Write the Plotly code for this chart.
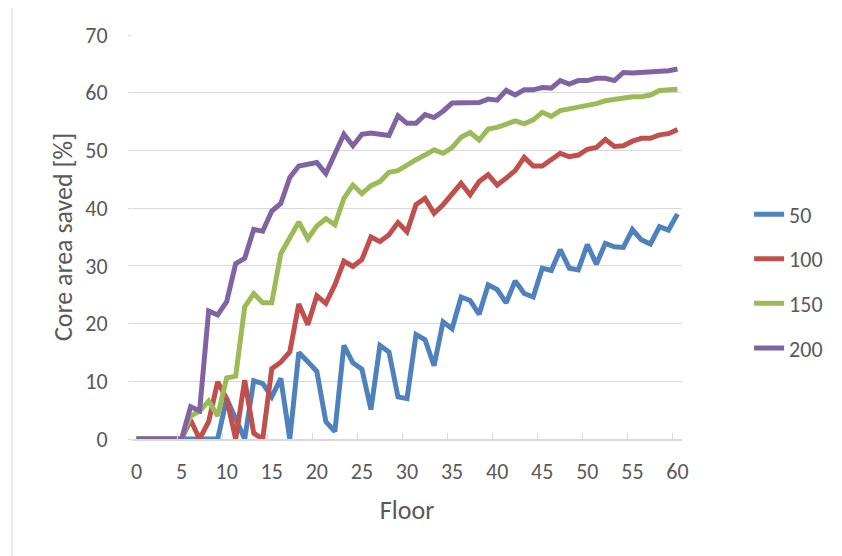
import plotly.graph_objects as go

floors = list(range(0, 61))

s50 = [0, 0, 0, 0, 0, 0, 0, 0, 0, 0,
       7.0, 3.3, 0, 10.1, 9.6, 7.3, 10.5, 0, 15.0, 13.4, 11.7,
       3.0, 1.3, 16.2, 13.2, 12.1, 5.1, 16.2, 15.1, 7.3, 7.0,
       18.1, 17.2, 12.7, 20.3, 19.1, 24.6, 24.0, 21.6, 26.7, 25.9,
       23.6, 27.4, 25.2, 24.6, 29.6, 29.2, 32.8, 29.6, 29.3, 33.7,
       30.3, 33.9, 33.3, 33.2, 36.3, 34.5, 33.8, 36.8, 36.2, 39.0]

s100 = [0, 0, 0, 0, 0, 0,
        3.3, 0, 3.0, 9.9, 7.0, 0, 10.2, 1.0, 0, 12.2, 13.3, 15.1, 23.4, 19.8, 24.8,
        23.5, 26.7, 30.8, 29.9, 31.1, 35.0, 34.2, 35.4, 37.5, 35.9,
        40.6, 41.7, 39.1, 40.6, 42.3, 44.3, 42.3, 44.6, 45.8, 44.0,
        45.2, 46.5, 48.8, 47.3, 47.3, 48.4, 49.5, 48.9, 49.2, 50.2,
        50.5, 51.9, 50.7, 50.8, 51.6, 52.1, 52.1, 52.7, 52.9, 53.6]

s150 = [0, 0, 0, 0, 0, 0,
        4.0, 4.8, 6.6, 4.0, 10.6, 10.9, 22.9, 25.2, 23.6, 23.6, 32.1, 34.8, 37.6, 34.7, 36.9,
        38.2, 37.1, 41.7, 44.0, 42.5, 43.9, 44.6, 46.2, 46.5, 47.5,
        48.4, 49.2, 50.1, 49.5, 50.5, 52.3, 53.1, 51.8, 53.7, 54.0,
        54.6, 55.1, 54.6, 55.3, 56.6, 55.9, 56.9, 57.2, 57.4, 57.8,
        58.1, 58.6, 58.9, 59.0, 59.3, 59.3, 59.6, 60.4, 60.5, 60.6]

s200 = [0, 0, 0, 0, 0, 0,
        5.6, 4.9, 22.2, 21.5, 23.8, 30.4, 31.3, 36.3, 36.0, 39.5, 40.8, 45.3, 47.3, 47.5, 47.9,
        46.0, 49.5, 52.8, 50.8, 52.8, 53.0, 52.7, 52.6, 56.0, 54.7,
        54.7, 56.2, 55.7, 56.8, 58.2, 58.3, 58.3, 58.3, 58.9, 58.7,
        60.4, 59.6, 60.5, 60.5, 60.9, 60.8, 62.1, 61.5, 62.1, 62.1,
        62.5, 62.5, 62.1, 63.5, 63.4, 63.5, 63.4, 63.7, 63.8, 64.1]

series_names = ["50", "100", "150", "200"]
series_values = [s50, s100, s150, s200]
colors = ["#4F81BD", "#C0504D", "#9BBB59", "#8064A2"]

x_tick_labels = list(range(0, 61, 5))
x_tick_marks = [v - 0.5 for v in range(0, 61, 5)]

FONT = "Calibri, Carlito, Lato, sans-serif"
TXT = "#595959"
GRID = "#D9D9D9"

# page body has an 8px default margin; compensate so the plot lands where the reference has it
L, T, PW, PH = 124, 27, 550.5, 404

fig = go.Figure()
for name, vals, col in zip(series_names, series_values, colors):
    fig.add_trace(go.Scatter(
        x=floors, y=vals, name=name, mode="lines",
        line=dict(color=col, width=5),
        legendgroup=name,
    ))

fig.add_trace(go.Scatter(x=[None], y=[None], xaxis="x2", showlegend=False,
                         hoverinfo="skip", mode="lines"))

fig.update_layout(
    width=842, height=556,
    margin=dict(l=L, r=842 - L - PW, t=T, b=556 - T - PH),
    paper_bgcolor="white", plot_bgcolor="white",
    font=dict(family=FONT, color=TXT, size=22),
    showlegend=True,
    legend=dict(
        x=1.122, xanchor="left", y=0.608, yanchor="top",
        font=dict(family=FONT, size=22, color=TXT),
        tracegroupgap=13, bgcolor="rgba(0,0,0,0)",
    ),
    xaxis=dict(
        range=[-0.5, 60.5], tickmode="array", tickvals=x_tick_labels,
        ticktext=[str(v) for v in x_tick_labels],
        ticks="", showgrid=False, zeroline=False,
        showline=True, linecolor=GRID, linewidth=1.5,
        tickfont=dict(family=FONT, size=22, color=TXT),
        ticklabelstandoff=12,
        title=dict(text="Floor", font=dict(family=FONT, size=26, color=TXT), standoff=17),
    ),
    xaxis2=dict(
        range=[-0.5, 60.5], overlaying="x", anchor="y", side="bottom",
        tickmode="array", tickvals=x_tick_marks, ticks="inside", ticklen=6,
        tickcolor=GRID, tickwidth=1.3, showticklabels=False,
        showgrid=False, zeroline=False, showline=False,
    ),
    yaxis=dict(
        range=[0, 70], tickmode="array", tickvals=list(range(0, 71, 10)),
        showgrid=True, gridcolor=GRID, gridwidth=1.3, zeroline=False,
        showline=False, ticks="outside", ticklen=3, tickcolor=GRID,
        tickfont=dict(family=FONT, size=22, color=TXT),
        ticklabelstandoff=16,
        title=dict(text="Core area saved [%]", font=dict(family=FONT, size=26, color=TXT), standoff=5),
    ),
    shapes=[dict(type="line", xref="paper", yref="paper",
                 x0=-120 / PW, x1=-120 / PW, y0=-(556 - T - PH) / PH - 0.05, y1=1 + T / PH + 0.05,
                 line=dict(color=GRID, width=1))],
)

fig.write_html("out.html")
